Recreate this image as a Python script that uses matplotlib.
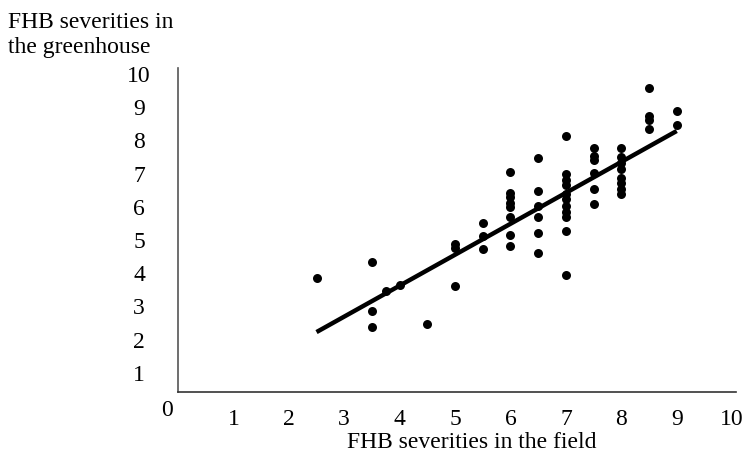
import matplotlib
matplotlib.use("Agg")
import matplotlib.pyplot as plt

plt.rcParams['font.family'] = ['Liberation Serif', 'DejaVu Serif']

# Field vs greenhouse FHB severity per line
field_x = [2.5,
           3.5, 3.5, 3.5,
           3.75, 4.0, 4.5,
           5.0, 5.0, 5.0,
           5.5, 5.5, 5.5,
           6.0, 6.0, 6.0, 6.0, 6.0, 6.0, 6.0, 6.0,
           6.5, 6.5, 6.5, 6.5, 6.5, 6.5,
           7.0, 7.0, 7.0, 7.0, 7.0, 7.0, 7.0, 7.0, 7.0, 7.0, 7.0,
           7.5, 7.5, 7.5, 7.5, 7.5, 7.5,
           8.0, 8.0, 8.0, 8.0, 8.0, 8.0, 8.0, 8.0,
           8.5, 8.5, 8.5, 8.5,
           9.0, 9.0]
greenhouse_y = [3.86,
                4.34, 2.86, 2.38,
                3.47, 3.65, 2.47,
                4.89, 4.76, 3.61,
                5.50, 5.12, 4.74,
                7.05, 6.42, 6.28, 6.12, 5.98, 5.68, 5.15, 4.82,
                7.48, 6.48, 6.02, 5.70, 5.22, 4.62,
                8.13, 6.99, 6.81, 6.65, 6.38, 6.23, 6.02, 5.84, 5.69, 5.27, 3.95,
                7.77, 7.53, 7.41, 7.02, 6.54, 6.08,
                7.77, 7.50, 7.32, 7.14, 6.87, 6.72, 6.54, 6.38,
                9.58, 8.74, 8.62, 8.34,
                8.87, 8.45]

# Linear trend drawn across the observed field range
trend_x = [2.5, 9.0]
trend_y = [2.23, 8.28]

x_ticks = [1, 2, 3, 4, 5, 6, 7, 8, 9, 10]
y_ticks = [1, 2, 3, 4, 5, 6, 7, 8, 9, 10]

FS = 17

fig = plt.figure(figsize=(7.49, 4.67), dpi=100)
ax = fig.add_axes([178 / 749, 75 / 467, 558 / 749, 324 / 467])

ax.scatter(field_x, greenhouse_y, s=42, color='black', zorder=3, linewidths=0)
ax.plot(trend_x, trend_y, color='black', linewidth=3.2, solid_capstyle='butt', zorder=2)

ax.set_xlim(0, 10.07)
ax.set_ylim(0.427, 10.175)

for side in ('top', 'right'):
    ax.spines[side].set_visible(False)
ax.spines['left'].set_color('#555555')
ax.spines['bottom'].set_color('#333333')
ax.spines['left'].set_linewidth(1.2)
ax.spines['bottom'].set_linewidth(1.2)

ax.set_xticks(x_ticks)
ax.set_xticklabels([str(t) for t in x_ticks])
ax.set_yticks(y_ticks)
ax.set_yticklabels([str(t) for t in y_ticks], ha='center')
ax.tick_params(axis='both', length=0, labelsize=FS)
ax.tick_params(axis='x', pad=12)
ax.tick_params(axis='y', pad=28)

# Shared origin label at the corner
fig.text(167 / 749, 1 - 411 / 467, '0', fontsize=FS, ha='center', va='center')

fig.text(472 / 749, 1 - 442 / 467, 'FHB severities in the field',
         fontsize=FS, ha='center', va='center')
fig.text(8 / 749, 1 - 22 / 467, 'FHB severities in', fontsize=FS, ha='left', va='center')
fig.text(8 / 749, 1 - 48 / 467, 'the greenhouse', fontsize=FS, ha='left', va='center')

fig.savefig('out.png', dpi=100)
